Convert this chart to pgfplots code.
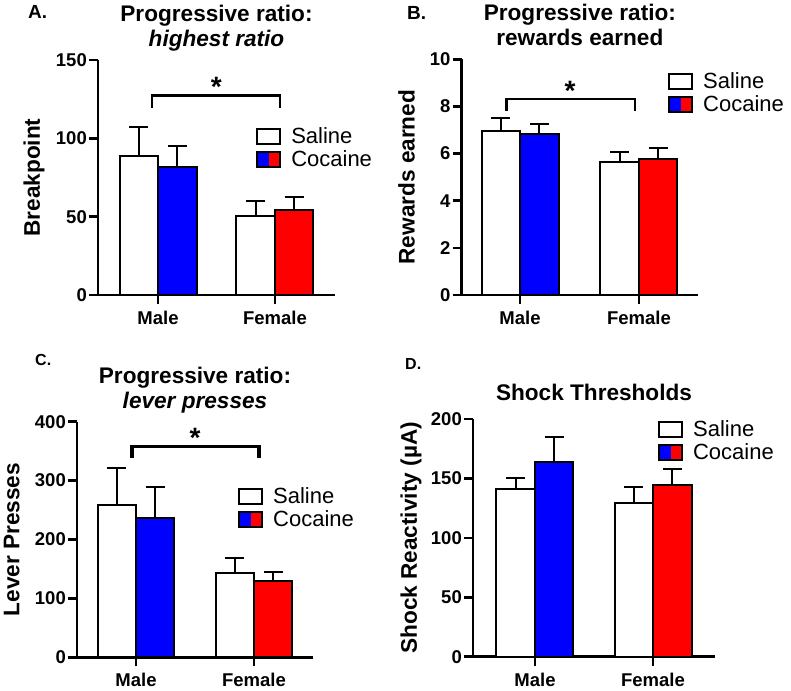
\documentclass[border=0pt]{standalone}
\usepackage{pgfplots}
\pgfplotsset{compat=1.18}
\usepackage{fontspec}
\setmainfont{Liberation Sans}
\definecolor{cblue}{RGB}{0,0,255}
\definecolor{cred}{RGB}{255,0,0}
\newcommand{\fbig}{\fontsize{22.6}{25}\selectfont}
\newcommand{\fleg}{\fontsize{22}{24}\selectfont}
\newcommand{\fstar}{\fontsize{28}{28}\selectfont\bfseries}
\newcommand{\ftick}{\fontsize{18.5}{20}\selectfont\bfseries}
\pgfplotsset{
  panel/.style={
    scale only axis,
    axis lines=left,
    axis line style={-, line width=2.5pt},
    ymin=0,
    xtick={1,2},
    xticklabels={Male,Female},
    tick align=outside,
    major tick length=9pt,
    tick style={line width=2.5pt, black},
    /pgf/number format/assume math mode=true,
    tick label style={font=\ftick},
    yticklabel style={inner sep=2pt},
    xticklabel style={inner sep=2pt, yshift=-5pt},
    label style={font=\fbig\bfseries},
    ylabel style={anchor=center},
    title style={font=\fbig\bfseries, align=center, anchor=north, inner sep=0pt},
    legend style={draw=none, fill=none, font=\fleg, inner sep=0pt, row sep=1.5pt, anchor=north west,
      /tikz/every odd column/.append style={column sep=8pt}},
    legend cell align=left,
    clip=false,
  },
  barbase/.style={ybar, bar width=38.5pt, bar shift=0pt, draw=black, line width=2pt,
    error bars/y dir=plus, error bars/y explicit,
    error bars/error bar style={line width=2pt, black},
    error bars/error mark options={rotate=90, mark size=9.5pt, line width=2pt, black}},
  sal/.style={barbase, fill=white,
    legend image code/.code={\draw[line width=2pt, fill=white] (0pt,-7.5pt) rectangle (23pt,7.5pt);}},
  cocm/.style={barbase, fill=cblue,
    legend image code/.code={\path[fill=cblue, draw=none] (0pt,-7.5pt) rectangle (11.5pt,7.5pt);
      \path[fill=cred, draw=none] (11.5pt,-7.5pt) rectangle (23pt,7.5pt);
      \path[draw=black, fill=none, line width=2pt] (0pt,-7.5pt) rectangle (23pt,7.5pt);}},
  cocf/.style={barbase, fill=cred, forget plot},
  brk/.style={sharp plot, black, line width=2.5pt, forget plot, mark=none},
}
\begin{document}
\begin{tikzpicture}
\useasboundingbox (0,0) rectangle (791pt,690pt);
% ---------------- A ----------------
\begin{axis}[panel, at={(98pt,395pt)}, anchor=origin, width=237pt, height=235pt,
  xmin=0.487, xmax=2.513, ymax=150, ytick={0,50,100,150},
  ylabel={Breakpoint}, ylabel style={at={(axis description cs:-0.27,0.5)}},
  title={Progressive ratio:\\\textit{highest ratio}}, title style={at={(0.5,1)}, yshift=49.5pt},
  legend style={at={(0.667,0.72)}}]
\addplot[sal] coordinates {(0.8355,88.7) +- (0,18.7) (1.8355,50.6) +- (0,9.2)};
\addlegendentry{Saline}
\addplot[cocm] coordinates {(1.1645,81.5) +- (0,13.8)};
\addlegendentry{Cocaine}
\addplot[cocf] coordinates {(2.1645,54.3) +- (0,8.5)};
\addplot[brk] coordinates {(0.949,119.2) (0.949,127.2) (2.043,127.2) (2.043,119.2)};
\node[anchor=base, font=\fstar, inner sep=0pt, yshift=-16pt] at (axis cs:1.498,136.9) {*};
\end{axis}
% ---------------- B ----------------
\begin{axis}[panel, at={(461.7pt,395pt)}, anchor=origin, width=236.3pt, height=235.7pt,
  xmin=0.51, xmax=2.496, ymax=10, ytick={0,2,4,6,8,10},
  ylabel={Rewards earned}, ylabel style={at={(axis description cs:-0.233,0.5)}},
  title={Progressive ratio:\\rewards earned}, title style={at={(0.5,1)}, yshift=49.8pt},
  legend style={at={(0.873,0.952)}}]
\addplot[sal] coordinates {(0.8382,6.96) +- (0,0.56) (1.8382,5.66) +- (0,0.42)};
\addlegendentry{Saline}
\addplot[cocm] coordinates {(1.1618,6.82) +- (0,0.42)};
\addlegendentry{Cocaine}
\addplot[cocf] coordinates {(2.1618,5.77) +- (0,0.48)};
\addplot[brk] coordinates {(0.888,7.8) (0.888,8.32) (1.966,8.32) (1.966,7.8)};
\node[anchor=base, font=\fstar, inner sep=0pt, yshift=-16pt] at (axis cs:1.42,8.91) {*};
\end{axis}
% ---------------- C ----------------
\begin{axis}[panel, at={(77pt,32.7pt)}, anchor=origin, width=236pt, height=235.6pt,
  xmin=0.5, xmax=2.5, ymax=400, ytick={0,100,200,300,400},
  ylabel={Lever Presses}, ylabel style={at={(axis description cs:-0.277,0.5)}},
  title={Progressive ratio:\\\textit{lever presses}}, title style={at={(0.5,1)}, yshift=48.9pt},
  legend style={at={(0.682,0.729)}}]
\addplot[sal] coordinates {(0.8369,258.5) +- (0,63.3) (1.8369,142.6) +- (0,25.4)};
\addlegendentry{Saline}
\addplot[cocm] coordinates {(1.1631,237) +- (0,51.5)};
\addlegendentry{Cocaine}
\addplot[cocf] coordinates {(2.1631,129.5) +- (0,14.8)};
\addplot[brk, line width=3.8pt] coordinates {(0.966,337.8) (0.966,358) (2.042,358) (2.042,337.8)};
\node[anchor=base, font=\fstar, inner sep=0pt, yshift=-16pt] at (axis cs:1.5,384.2) {*};
\end{axis}
% ---------------- D ----------------
\begin{axis}[panel, at={(473pt,33.3pt)}, anchor=origin, width=242pt, height=237.7pt,
  xmin=0.475, xmax=2.525, ymax=200, ytick={0,50,100,150,200},
  ylabel={Shock Reactivity (µA)}, ylabel style={at={(axis description cs:-0.256,0.5)}},
  title={Shock Thresholds}, title style={at={(0.5,1)}, yshift=29.5pt},
  legend style={at={(0.764,1.003)}}]
\addplot[sal] coordinates {(0.8369,140.9) +- (0,9.2) (1.8369,129.6) +- (0,13.2)};
\addlegendentry{Saline}
\addplot[cocm] coordinates {(1.1631,164.1) +- (0,20.5)};
\addlegendentry{Cocaine}
\addplot[cocf] coordinates {(2.1631,144.5) +- (0,13.2)};
\end{axis}
% panel letters
\node[anchor=base west, font=\fontsize{19}{19}\selectfont\bfseries, inner sep=0pt] at (28pt,671pt) {A.};
\node[anchor=base west, font=\fontsize{19}{19}\selectfont\bfseries, inner sep=0pt] at (407pt,670.5pt) {B.};
\node[anchor=base west, font=\fontsize{16}{16}\selectfont\bfseries, inner sep=0pt] at (35pt,324.3pt) {C.};
\node[anchor=base west, font=\fontsize{16}{16}\selectfont\bfseries, inner sep=0pt] at (405pt,320pt) {D.};
\end{tikzpicture}
\end{document}
